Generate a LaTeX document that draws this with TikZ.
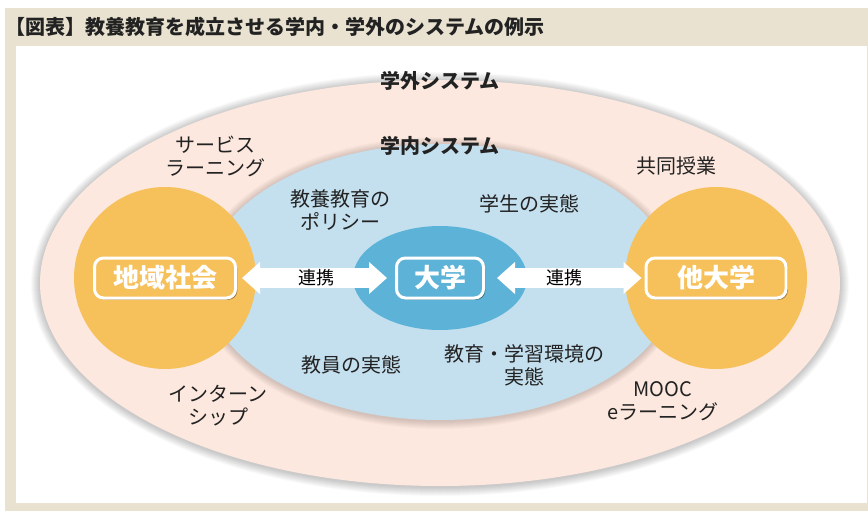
\documentclass[tikz,border=0pt]{standalone}
\usepackage{fontspec}
\setmainfont{Noto Sans CJK JP}
\usetikzlibrary{shadows,arrows.meta}
\definecolor{frameC}{HTML}{E9E2D0}
\definecolor{pinkC}{HTML}{FCE8DE}
\definecolor{lblueC}{HTML}{C4E0EF}
\definecolor{dblueC}{HTML}{5DB3D7}
\definecolor{orangeC}{HTML}{F6C15B}
\definecolor{txtC}{HTML}{222222}
\tikzset{
  lbl/.style={text=txtC, align=center, inner sep=0pt, font=\fontsize{20}{23}\selectfont},
  sysl/.style={text=txtC, inner sep=0pt, font=\bfseries\fontsize{20}{23}\selectfont},
  boxn/.style={draw=white, line width=3pt, rounded corners=9pt, text=white,
    font=\bfseries\fontsize{26}{30}\selectfont, inner sep=0pt, minimum height=40pt,
    drop shadow={shadow xshift=1.8pt, shadow yshift=-1.8pt, fill=black, opacity=0.35}},
  linkarr/.style={white, line width=20pt, {Triangle[length=18pt,width=31pt]}-{Triangle[length=18pt,width=31pt]}},
  linkl/.style={text=black, font=\fontsize{18}{20}\selectfont, inner sep=0pt}
}
\begin{document}
\begin{tikzpicture}[x=1pt,y=-1pt]
\useasboundingbox (0,0) rectangle (868,511);
\fill[white] (0,0) rectangle (868,511);
\fill[frameC] (5,8) rectangle (868,511);
\fill[white] (16,46) rectangle (867,503);
\node[anchor=west, inner sep=0pt, text=txtC, font=\bfseries\fontsize{20}{24}\selectfont] (title) at (5,27) {【図表】教養教育を成立させる学内・学外のシステムの例示};
% outer ellipse with soft shadow
\foreach \i in {1,...,9} {
  \fill[black, opacity=0.025] (440,284) ellipse [x radius={400pt+\i pt}, y radius={203pt+\i pt}];
}
\fill[pinkC] (440,283) ellipse [x radius=400pt, y radius=203pt];
% inner ellipse with soft shadow
\foreach \i in {1,...,8} {
  \fill[black, opacity=0.02] (440,283) ellipse [x radius={235pt+\i pt}, y radius={138pt+\i pt}];
}
\fill[lblueC] (440,282) ellipse [x radius=235pt, y radius=138pt];
% circles
\fill[orangeC] (165,278) circle [radius=91pt];
\fill[orangeC] (716,278) circle [radius=91pt];
\fill[dblueC] (440,278) ellipse [x radius=87pt, y radius=52pt];
% labels
\node[sysl] (gakugai) at (440,81) {学外システム};
\node[sysl] (gakunai) at (440,146) {学内システム};
\node[lbl] (service) at (215,156) {サービス\\ラーニング};
\node[lbl] (policy) at (340,210) {教養教育の\\ポリシー};
\node[lbl] (student) at (529,204) {学生の実態};
\node[lbl] (kyodo) at (676,166) {共同授業};
\node[lbl] (kyoin) at (351,365) {教員の実態};
\node[lbl] (kankyo) at (524,365) {教育・学習環境の\\実態};
\node[lbl] (intern) at (218,406) {インターン\\シップ};
\node[lbl] (mooc) at (663,401) {MOOC\\eラーニング};
% boxes
\node[boxn, fill=orangeC, minimum width=141pt] (chiiki) at (165,278) {地域社会};
\node[boxn, fill=dblueC, minimum width=87pt] (daigaku) at (440,278) {大学};
\node[boxn, fill=orangeC, minimum width=140pt] (tadaigaku) at (716,278) {他大学};
% arrows
\draw[linkarr, shorten <=5pt, shorten >=8pt] (chiiki.east) -- (daigaku.west) node[midway, linkl] (renkei1) {連携};
\draw[linkarr, shorten <=12pt, shorten >=3pt] (daigaku.east) -- (tadaigaku.west) node[midway, linkl] (renkei2) {連携};
\end{tikzpicture}
\end{document}
